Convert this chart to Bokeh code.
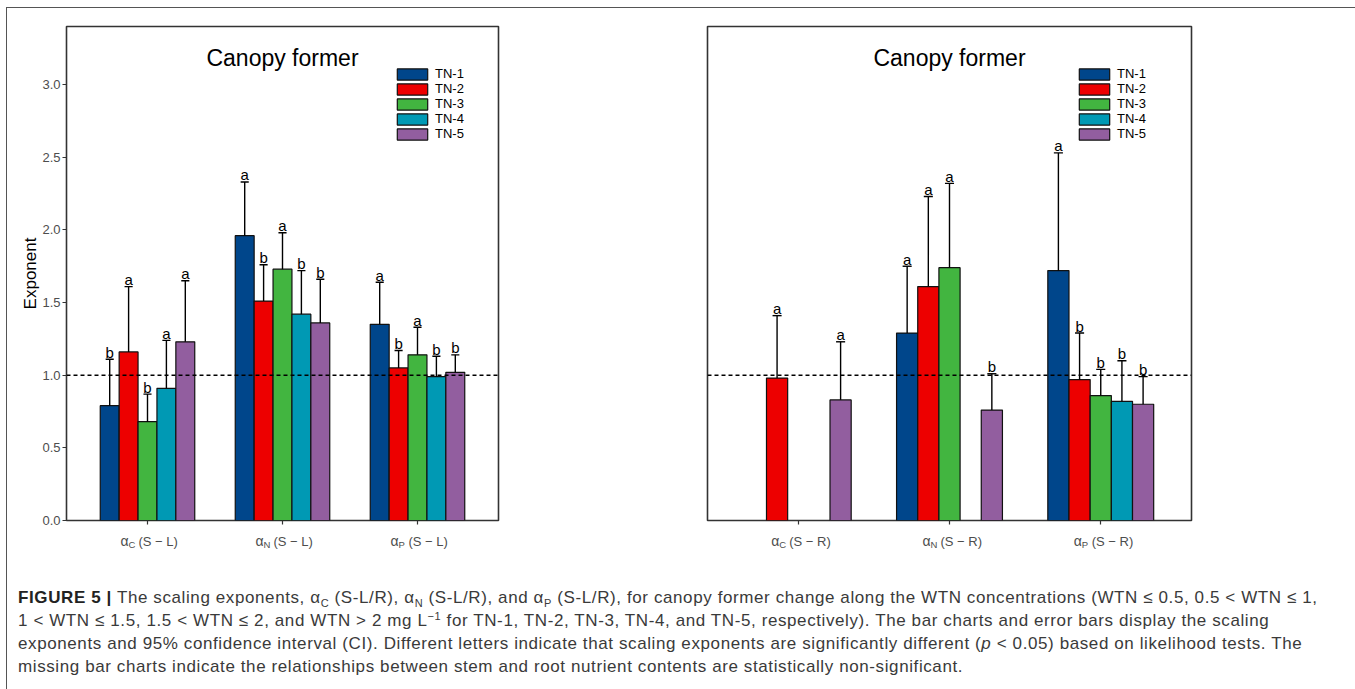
from bokeh.plotting import figure
from bokeh.models import (ColumnDataSource, Range1d, FixedTicker, Span, Label,
                          Legend, LegendItem, Div, NumeralTickFormatter, Spacer)
from bokeh.layouts import row, column
from bokeh.core.properties import value
from bokeh.embed import file_html
from bokeh.resources import INLINE

# ---------------- data ----------------
groups = ["TN-1", "TN-2", "TN-3", "TN-4", "TN-5"]
colors = ["#00468B", "#ED0000", "#42B540", "#0099B4", "#925E9F"]
nutrients = ["C", "N", "P"]
y_ticks = [0.0, 0.5, 1.0, 1.5, 2.0, 2.5, 3.0]
panel_title = "Canopy former"

# stem-leaf (S-L): rows = TN-1..TN-5, columns = alpha_C, alpha_N, alpha_P
sl_exponent = [[0.79, 1.96, 1.35],
               [1.16, 1.51, 1.05],
               [0.68, 1.73, 1.14],
               [0.91, 1.42, 0.99],
               [1.23, 1.36, 1.02]]
sl_upper = [[1.11, 2.33, 1.64],
            [1.61, 1.76, 1.17],
            [0.87, 1.98, 1.33],
            [1.24, 1.72, 1.13],
            [1.65, 1.66, 1.14]]
sl_letters = [["b", "a", "a"],
              ["a", "b", "b"],
              ["b", "a", "a"],
              ["a", "b", "b"],
              ["a", "b", "b"]]

# stem-root (S-R): None = non-significant relationship (bar missing)
sr_exponent = [[None, 1.29, 1.72],
               [0.98, 1.61, 0.97],
               [None, 1.74, 0.86],
               [None, None, 0.82],
               [0.83, 0.76, 0.80]]
sr_upper = [[None, 1.75, 2.53],
            [1.41, 2.23, 1.29],
            [None, 2.32, 1.04],
            [None, None, 1.10],
            [1.23, 1.01, 0.99]]
sr_letters = [[None, "a", "a"],
              ["a", "a", "b"],
              [None, "a", "b"],
              [None, None, "b"],
              ["a", "b", "b"]]

# ---------------- styling ----------------
FONT = "Liberation Sans"
BAR_W = 0.14
OFFSETS = [-0.28, -0.14, 0.0, 0.14, 0.28]
CAP = 0.06
FRAME_H = 494
TOP_B = 18
BOT_B = 8
STRIP_H = 33


def make_panel(exponent, upper, letters, rel, width, left_b, frame_w, show_y, leg_x):
    right_b = width - left_b - frame_w
    xr = Range1d(0.4, 3.6)
    p = figure(width=width, height=TOP_B + FRAME_H + BOT_B, x_range=xr,
               y_range=Range1d(0, 3.4), output_backend="svg",
               toolbar_location=None, title=None,
               min_border_left=left_b, min_border_right=right_b,
               min_border_top=TOP_B, min_border_bottom=BOT_B)
    p.background_fill_color = "white"
    p.border_fill_color = "white"
    p.outline_line_color = "#333333"
    p.outline_line_width = 1.6
    p.grid.visible = False

    items = []
    for g in range(5):
        xs, tops, ups, sig, c0, c1 = [], [], [], [], [], []
        for c in range(3):
            v = exponent[g][c]
            if v is None:
                continue
            x = c + 1 + OFFSETS[g]
            xs.append(x)
            tops.append(v)
            ups.append(upper[g][c])
            sig.append(letters[g][c])
            c0.append(x - CAP / 2)
            c1.append(x + CAP / 2)
        src = ColumnDataSource(dict(x=xs, top=tops, upper=ups, sig=sig, c0=c0, c1=c1))
        r = p.vbar(x="x", top="top", bottom=0, width=BAR_W, source=src,
                   fill_color=colors[g], line_color="#111111", line_width=1.2)
        p.segment(x0="x", y0="top", x1="x", y1="upper", source=src,
                  line_color="black", line_width=1.4)
        p.segment(x0="c0", y0="upper", x1="c1", y1="upper", source=src,
                  line_color="black", line_width=1.4)
        p.text(x="x", y="upper", text="sig", source=src, text_align="center",
               text_baseline="alphabetic", y_offset=-7,
               text_font=value(FONT), text_font_size="15px", text_color="black")
        items.append(LegendItem(label=groups[g], renderers=[r]))

    p.add_layout(Span(location=1.0, dimension="width", line_color="black",
                      line_width=1.5, line_dash="4 3"))

    # title inside the frame
    p.add_layout(Label(x=2.0, y=3.4, text=panel_title, text_align="center",
                       text_baseline="alphabetic", y_offset=-31, text_font=FONT,
                       text_font_size="23px", text_color="black"))

    legend = Legend(items=items, location=(leg_x, 379),
                    glyph_width=38, glyph_height=14, label_height=14, spacing=0,
                    padding=0, margin=0, label_standoff=4,
                    label_text_font=FONT, label_text_font_size="13px",
                    label_text_color="black", border_line_color=None,
                    background_fill_alpha=0)
    p.add_layout(legend)

    # axes
    p.xaxis.ticker = FixedTicker(ticks=[1, 2, 3])
    p.xaxis.major_label_overrides = {1: " ", 2: " ", 3: " "}
    p.xaxis.axis_line_color = None
    p.xaxis.minor_tick_line_color = None
    p.xaxis.major_tick_in = 0
    p.xaxis.major_tick_out = 4
    p.xaxis.major_tick_line_color = "#333333"
    p.xaxis.major_tick_line_width = 1.2
    p.xaxis.major_label_text_font_size = "1px"
    p.xaxis.major_label_standoff = 0

    if show_y:
        p.yaxis.ticker = FixedTicker(ticks=y_ticks)
        p.yaxis.formatter = NumeralTickFormatter(format="0.0")
        p.yaxis.axis_line_color = None
        p.yaxis.minor_tick_line_color = None
        p.yaxis.major_tick_in = 0
        p.yaxis.major_tick_out = 4
        p.yaxis.major_tick_line_color = "#333333"
        p.yaxis.major_tick_line_width = 1.2
        p.yaxis.major_label_text_font = FONT
        p.yaxis.major_label_text_font_size = "13px"
        p.yaxis.major_label_text_color = "#4D4D4D"
        p.yaxis.major_label_standoff = 2
        p.yaxis.axis_label = "Exponent"
        p.yaxis.axis_label_text_font = FONT
        p.yaxis.axis_label_text_font_size = "17px"
        p.yaxis.axis_label_text_font_style = "normal"
        p.yaxis.axis_label_text_color = "black"
        p.yaxis.axis_label_standoff = -1
    else:
        p.yaxis.visible = False

    # strip under the panel carrying the category labels (alpha + subscript)
    s = figure(width=width, height=STRIP_H, x_range=xr, y_range=Range1d(0, 1),
               output_backend="svg", toolbar_location=None, title=None,
               min_border_left=left_b, min_border_right=right_b,
               min_border_top=0, min_border_bottom=0)
    s.axis.visible = False
    s.grid.visible = False
    s.outline_line_color = None
    s.background_fill_color = "white"
    s.border_fill_color = "white"
    lab_src = ColumnDataSource(dict(
        x=[1, 2, 3],
        alpha=["α"] * 3,
        sub=nutrients,
        rel=["(S \u2212 " + rel + ")"] * 3,
    ))
    s.text(x="x", y=0.62, text="alpha", source=lab_src, text_align="right",
           x_offset=-19, text_baseline="alphabetic", text_font=value(FONT),
           text_font_size="14px", text_color="#4D4D4D")
    s.text(x="x", y=0.52, text="sub", source=lab_src, text_align="left",
           x_offset=-19, text_baseline="alphabetic", text_font=value(FONT),
           text_font_size="9.5px", text_color="#4D4D4D")
    s.text(x="x", y=0.62, text="rel", source=lab_src, text_align="left",
           x_offset=-9, text_baseline="alphabetic", text_font=value(FONT),
           text_font_size="13px", text_color="#4D4D4D")
    return p, s


p_left, s_left = make_panel(sl_exponent, sl_upper, sl_letters, "L",
                            width=620, left_b=59, frame_w=432, show_y=True,
                            leg_x=327)
p_right, s_right = make_panel(sr_exponent, sr_upper, sr_letters, "R",
                              width=719, left_b=80, frame_w=484, show_y=False,
                              leg_x=368)

SUB = "<span style='font-size:11px;position:relative;top:4px;line-height:0'>{}</span>"
SUP = "<span style='font-size:11px;position:relative;top:-6px;line-height:0'>{}</span>"
caption_html = (
    "<div style=\"font-family:'Liberation Sans',Arial,sans-serif;font-size:17px;"
    "letter-spacing:0.6px;line-height:23px;color:#3a3a3a;white-space:nowrap;"
    "padding:20px 0 0 6px;\">"
    "<b style='color:#222'>FIGURE 5 |</b> The scaling exponents, α" + SUB.format("C") + " (S-L/R), "
    "α" + SUB.format("N") + " (S-L/R), and α" + SUB.format("P") + " (S-L/R), for canopy former "
    "change along the WTN concentrations (WTN ≤ 0.5, 0.5 &lt; WTN ≤ 1,<br>"
    "1 &lt; WTN ≤ 1.5, 1.5 &lt; WTN ≤ 2, and WTN &gt; 2 mg L" + SUP.format("−1") + " for TN-1, TN-2, "
    "TN-3, TN-4, and TN-5, respectively). The bar charts and error bars display the scaling<br>"
    "exponents and 95% confidence interval (CI). Different letters indicate that scaling exponents "
    "are significantly different (<i>p</i> &lt; 0.05) based on likelihood tests. The<br>"
    "missing bar charts indicate the relationships between stem and root nutrient contents are "
    "statistically non-significant.</div>"
)
caption = Div(text=caption_html, width=1339, height=120)

inner = column(row(p_left, p_right), row(s_left, s_right), caption,
               styles={"border-top": "1.5px solid #555555",
                       "border-left": "1.5px solid #555555"})
layout = column(Spacer(height=7), row(Spacer(width=6), inner))

open("out.html", "w").write(file_html(layout, INLINE))
